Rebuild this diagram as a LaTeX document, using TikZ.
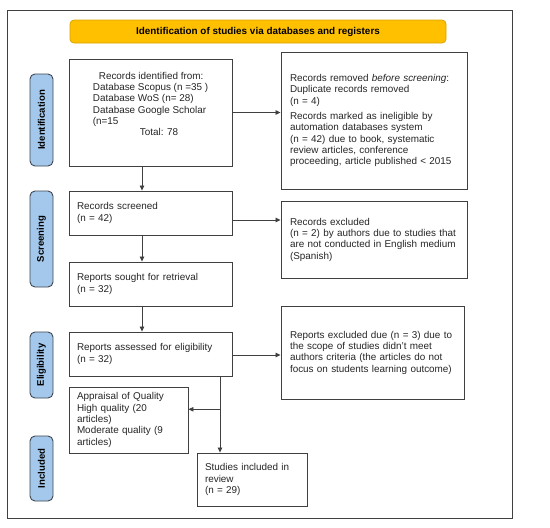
\documentclass[tikz,border=0pt]{standalone}
\usepackage{fontspec}
\setmainfont{Liberation Sans}
\usetikzlibrary{arrows.meta}
\definecolor{hdrfill}{HTML}{FFC000}
\definecolor{hdrline}{HTML}{D9A300}
\definecolor{lblfill}{HTML}{A4C8EC}
\definecolor{lblline}{HTML}{3E4650}
\definecolor{boxline}{HTML}{404040}
\definecolor{txt}{HTML}{262626}
\tikzset{
  flowbox/.style={draw=boxline, line width=0.9pt, fill=white, align=left,
    inner xsep=8pt, inner ysep=3pt, font=\fontsize{9.9}{11.3}\selectfont, text=txt},
  phase/.style={draw=lblline, line width=0.9pt, fill=lblfill, rounded corners=5pt,
    minimum height=23pt, rotate=90, font=\bfseries\fontsize{9.6}{11}\selectfont, text=black},
  conn/.style={draw=boxline, line width=0.8pt, -{Triangle[length=5pt,width=4.5pt]}},
  plain/.style={draw=boxline, line width=0.8pt}
}
\begin{document}
\begin{tikzpicture}[x=1pt,y=-1pt]
\useasboundingbox (0,0) rectangle (550,528);
\node[draw=boxline, line width=0.9pt, minimum width=505pt, minimum height=508pt, inner sep=0pt] (frame) at (259.5,264) {};
\node[draw=hdrline, line width=0.8pt, fill=hdrfill, rounded corners=4pt, minimum width=376pt, minimum height=23pt,
  font=\bfseries\fontsize{9.9}{11}\selectfont] (hdr) at (258,31.5) {Identification of studies via databases and registers};
% phase labels
\node[phase, minimum width=92pt] (pid) at (41.5,120) {Identification};
\node[phase, minimum width=96pt] (pscr) at (41.5,239) {Screening};
\node[phase, minimum width=66pt] (pel) at (41.5,365) {Eligibility};
\node[phase, minimum width=65pt] (pinc) at (41.5,468.5) {Included};
% boxes
\node[flowbox, minimum width=163pt, minimum height=107pt] (b1) at (150.5,112.5)
  {\hspace*{6pt}Records identified from:\\Database Scopus (n =35 )\\Database WoS (n= 28)\\Database Google Scholar\\(n=15\\\hspace*{47pt}Total: 78\\[6pt]};
\node[flowbox, text width=168pt, inner xsep=9pt, minimum height=137pt] (b2) at (374,120.5)
  {Records removed \textit{before screening}:\\Duplicate records removed\\(n = 4)\\[4pt]Records marked as ineligible by\\automation databases system\\(n = 42) due to book, systematic\\review articles, conference\\proceeding, article published < 2015};
\node[flowbox, text width=147pt, minimum height=44pt] (b3) at (150.5,213)
  {Records screened\\(n = 42)\\[8pt]};
\node[flowbox, text width=168pt, inner xsep=9pt, minimum height=77pt] (b4) at (374,239.5)
  {Records excluded\\(n = 2) by authors due to studies that\\are not conducted in English medium\\(Spanish)};
\node[flowbox, text width=147pt, minimum height=44pt] (b5) at (150.5,284)
  {Reports sought for retrieval\\(n = 32)};
\node[flowbox, text width=165pt, inner xsep=9pt, minimum height=93pt] (b6) at (372.5,352.5)
  {Reports excluded due (n = 3) due to\\the scope of studies didn't meet\\authors criteria (the articles do not\\focus on students learning outcome)\\[11pt]};
\node[flowbox, text width=147pt, minimum height=44pt] (b7) at (150.5,354)
  {Reports assessed for eligibility\\(n = 32)};
\node[flowbox, text width=103pt, minimum height=66pt] (b8) at (128.5,420)
  {Appraisal of Quality\\High quality (20\\articles)\\Moderate quality (9\\articles)};
\node[flowbox, text width=94pt, minimum height=53pt] (b9) at (252,479.5)
  {Studies included in\\review\\(n = 29)\\[8pt]};
% connectors
\draw[conn] (b1.east) -- (b1.east -| b2.west);
\draw[conn] ([xshift=-8.5pt]b1.south) -- ([xshift=-8.5pt]b3.north);
\draw[conn] ([yshift=-7pt]b3.east) -- ([yshift=-7pt]b3.east -| b4.west);
\draw[conn] ([xshift=-8.5pt]b3.south) -- ([xshift=-8.5pt]b5.north);
\draw[conn] ([xshift=-8.5pt]b5.south) -- ([xshift=-8.5pt]b7.north);
\draw[conn] ([yshift=-1pt]b7.east) -- ([yshift=-1pt]b7.east -| b6.west);
\draw[conn] ([xshift=69.5pt]b7.south) -- ([xshift=69.5pt]b7.south |- b9.north);
\coordinate (br) at ([xshift=69.5pt,yshift=10.7pt]b7.south |- b8.east);
\draw[conn] (br) -- ([yshift=10.7pt]b8.east);
\end{tikzpicture}
\end{document}
